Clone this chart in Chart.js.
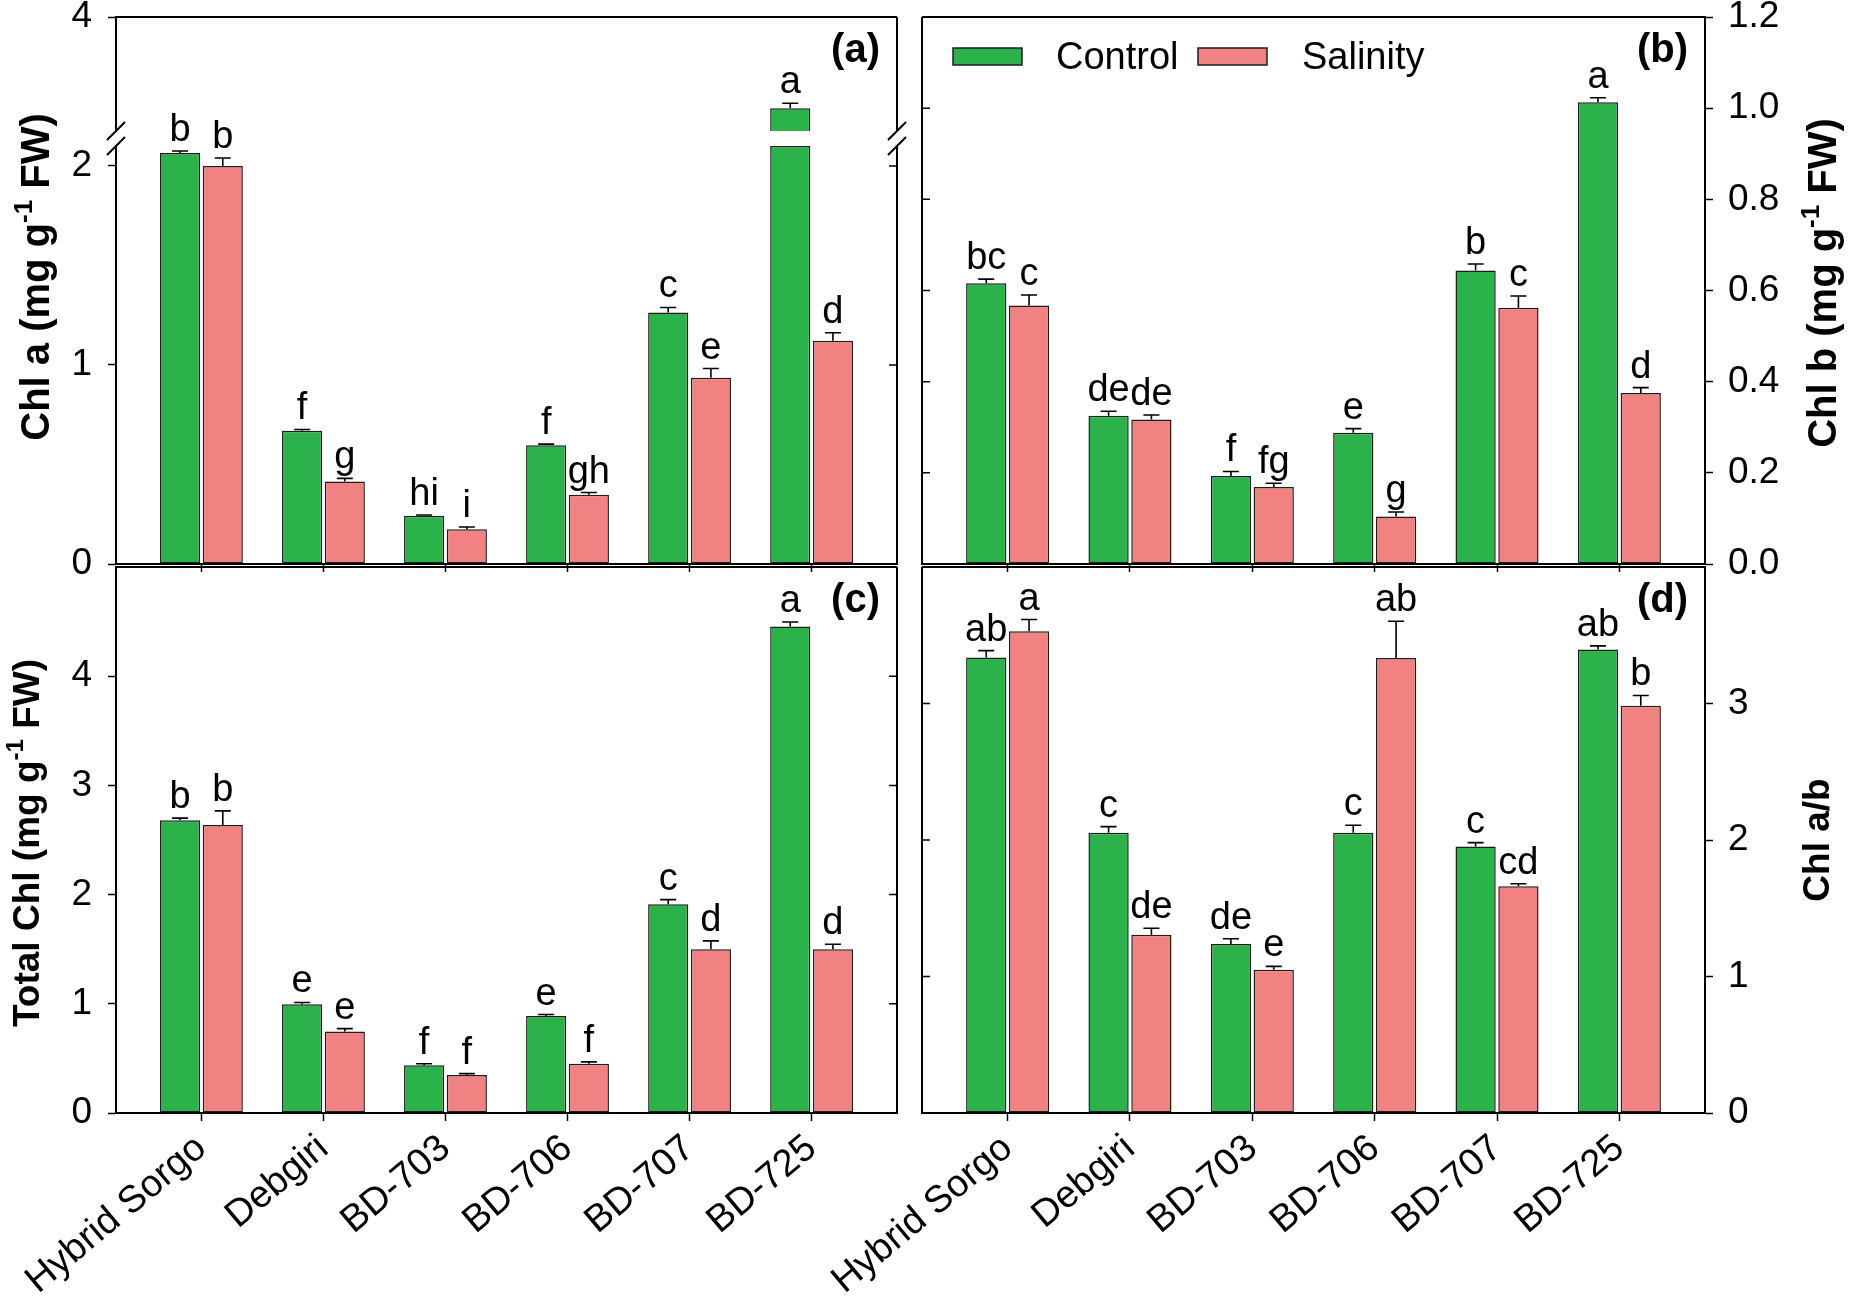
<!DOCTYPE html>
<html><head><meta charset="utf-8">
<script src="https://cdn.jsdelivr.net/npm/chart.js@4.4.1/dist/chart.umd.min.js"></script>
<style>
html,body{margin:0;padding:0;background:#fff;overflow:hidden}
#fig{position:relative;width:1850px;height:1297px;overflow:hidden;background:#fff}
#fig canvas{position:absolute;left:-100px;top:-100px}
</style></head><body>
<div id="fig">
<canvas id="cA1"></canvas><canvas id="cA2"></canvas><canvas id="cB"></canvas><canvas id="cC"></canvas><canvas id="cD"></canvas>
</div>
<script>
// ---------------- DATA ----------------
const categories = ['Hybrid Sorgo', 'Debgiri', 'BD-703', 'BD-706', 'BD-707', 'BD-725'];
const seriesNames = ['Control', 'Salinity'];

const chlaControl      = [2.065, 0.669, 0.242, 0.596, 1.264, 3.44];
const chlaControlErr   = [0.010, 0.007, 0.004, 0.006, 0.025, 0.03];
const chlaSalinity     = [2.000, 0.415, 0.175, 0.348, 0.936, 1.122];
const chlaSalinityErr  = [0.040, 0.015, 0.011, 0.011, 0.046, 0.040];
const chlaControlLetters  = ['b', 'f', 'hi', 'f', 'c', 'a'];
const chlaSalinityLetters = ['b', 'g', 'i', 'gh', 'e', 'd'];

const chlbControl      = [0.616, 0.325, 0.193, 0.288, 0.644, 1.013];
const chlbControlErr   = [0.009, 0.010, 0.010, 0.009, 0.014, 0.010];
const chlbSalinity     = [0.567, 0.317, 0.169, 0.104, 0.562, 0.375];
const chlbSalinityErr  = [0.023, 0.010, 0.008, 0.010, 0.026, 0.012];
const chlbControlLetters  = ['bc', 'de', 'f', 'e', 'b', 'a'];
const chlbSalinityLetters = ['c', 'de', 'fg', 'g', 'c', 'd'];

const totalControl     = [2.680, 0.997, 0.438, 0.889, 1.911, 4.454];
const totalControlErr  = [0.020, 0.015, 0.013, 0.013, 0.043, 0.043];
const totalSalinity    = [2.637, 0.747, 0.348, 0.451, 1.499, 1.499];
const totalSalinityErr = [0.130, 0.026, 0.013, 0.017, 0.077, 0.047];
const totalControlLetters  = ['b', 'e', 'f', 'e', 'c', 'a'];
const totalSalinityLetters = ['b', 'e', 'f', 'f', 'd', 'd'];

const ratioControl     = [3.337, 2.053, 1.239, 2.053, 1.953, 3.395];
const ratioControlErr  = [0.050, 0.045, 0.038, 0.055, 0.028, 0.027];
const ratioSalinity    = [3.529, 1.305, 1.050, 3.333, 1.662, 2.983];
const ratioSalinityErr = [0.086, 0.048, 0.024, 0.270, 0.017, 0.076];
const ratioControlLetters  = ['ab', 'c', 'de', 'c', 'c', 'ab'];
const ratioSalinityLetters = ['a', 'de', 'e', 'ab', 'cd', 'b'];

const chlaLowerTicks = [0, 1, 2];
const chlaUpperTicks = [4];
const chlbTicks  = [0, 0.2, 0.4, 0.6, 0.8, 1.0, 1.2];
const totalTicks = [0, 1, 2, 3, 4];
const ratioTicks = [0, 1, 2, 3];

// ---------------- STYLE / LAYOUT ----------------
const W = 1850, H = 1297, OFF = 100;
const CW = W + 2 * OFF, CH = H + 2 * OFF;
const GREEN = '#2bb24a', PINK = '#f28282', EDGE = '#1e1e1e', INK = '#000';
const FONT = "'Liberation Sans', Arial, Helvetica, sans-serif";
Chart.defaults.font.family = FONT;
Chart.defaults.color = INK;
const YW = 110;
const XH = { none: 0, ticks: 10, labels: 185 };
const TICK_FONT = 37, LETTER_FONT = 38, XLABEL_FONT = 38, LEGEND_FONT = 38, PANEL_FONT = 40;

function drawRichTitle(ctx, title) {
  const size = title.size, sup = Math.round(size * 0.65);
  ctx.save();
  ctx.translate(title.x + OFF, title.cy + OFF);
  ctx.rotate(-Math.PI / 2);
  ctx.textBaseline = 'alphabetic';
  ctx.textAlign = 'left';
  let total = 0;
  title.parts.forEach(p => { ctx.font = `bold ${p.sup ? sup : size}px ${FONT}`; p.w = ctx.measureText(p.t).width; total += p.w; });
  let x = -total / 2;
  title.parts.forEach(p => {
    ctx.font = `bold ${p.sup ? sup : size}px ${FONT}`;
    ctx.fillText(p.t, x, p.sup ? -size * 0.42 : 0);
    x += p.w;
  });
  ctx.restore();
}

function decor(cfg) {
  return {
    id: 'decor',
    afterDatasetsDraw(chart) {
      const ctx = chart.ctx, ca = chart.chartArea, ys = chart.scales.y;
      ctx.save();
      ctx.strokeStyle = INK; ctx.fillStyle = INK;
      // error bars and letters
      for (let d = 0; d < 2; d++) {
        const meta = chart.getDatasetMeta(d);
        meta.data.forEach((bar, i) => {
          const v = cfg.vals[d][i], e = cfg.errs[d][i];
          if (v < ys.min - 1e-9 || v > ys.max + 1e-9) return;
          const y0 = ys.getPixelForValue(v), y1 = ys.getPixelForValue(v + e);
          ctx.lineWidth = 1.6;
          ctx.beginPath();
          ctx.moveTo(bar.x, y0); ctx.lineTo(bar.x, y1);
          ctx.moveTo(bar.x - 8, y1); ctx.lineTo(bar.x + 8, y1);
          ctx.stroke();
          ctx.font = `${LETTER_FONT}px ${FONT}`;
          ctx.textAlign = 'center'; ctx.textBaseline = 'alphabetic';
          ctx.fillText(cfg.letters[d][i], bar.x, y1 - 10);
        });
      }
      // frame
      ctx.lineWidth = 2;
      ctx.beginPath();
      if (cfg.frame.top) { ctx.moveTo(ca.left, ca.top); ctx.lineTo(ca.right, ca.top); }
      if (cfg.frame.right) { ctx.moveTo(ca.right, ca.top); ctx.lineTo(ca.right, ca.bottom); }
      if (cfg.frame.left) { ctx.moveTo(ca.left, ca.top); ctx.lineTo(ca.left, ca.bottom); }
      ctx.stroke();
      // inward ticks on the opposite border
      const bx = cfg.yPos === 'left' ? ca.right : ca.left;
      const dir = cfg.yPos === 'left' ? -1 : 1;
      ctx.lineWidth = 1.5;
      ctx.beginPath();
      ys.ticks.forEach(t => {
        if (t.value <= ys.min || t.value >= ys.max) return;
        const y = ys.getPixelForValue(t.value);
        ctx.moveTo(bx, y); ctx.lineTo(bx + dir * 8, y);
      });
      ctx.stroke();
      // axis break marks
      if (cfg.breakAt) {
        const y = cfg.breakAt === 'top' ? ca.top : ca.bottom;
        ctx.lineWidth = 2;
        ctx.beginPath();
        [ca.left, ca.right].forEach(x => { ctx.moveTo(x - 9, y + 9); ctx.lineTo(x + 9, y - 9); });
        ctx.stroke();
      }
      // panel label
      if (cfg.label) {
        ctx.font = `bold ${PANEL_FONT}px ${FONT}`;
        ctx.textAlign = 'right'; ctx.textBaseline = 'alphabetic';
        ctx.fillText(cfg.label, ca.right - 17, ca.top + 45);
      }
      // legend
      if (cfg.legend) {
        ctx.font = `${LEGEND_FONT}px ${FONT}`;
        ctx.textAlign = 'left'; ctx.textBaseline = 'alphabetic';
        const items = [{ c: GREEN, dx: 31, tx: 134 }, { c: PINK, dx: 276, tx: 380 }];
        items.forEach((it, k) => {
          ctx.fillStyle = it.c;
          ctx.fillRect(ca.left + it.dx, ca.top + 31, 69, 17);
          ctx.lineWidth = 1.5; ctx.strokeStyle = EDGE;
          ctx.strokeRect(ca.left + it.dx, ca.top + 31, 69, 17);
          ctx.fillStyle = INK;
          ctx.fillText(seriesNames[k], ca.left + it.tx, ca.top + 52);
        });
      }
      // axis title
      if (cfg.title) {
        ctx.fillStyle = INK;
        drawRichTitle(ctx, cfg.title);
      }
      ctx.restore();
    }
  };
}

function panelChart(id, cfg) {
  const cv = document.getElementById(id);
  cv.width = CW; cv.height = CH;
  cv.style.width = CW + 'px'; cv.style.height = CH + 'px';
  const a = cfg.area;
  const L = a.l + OFF, R = a.r + OFF, T = a.t + OFF, B = a.b + OFF;
  const xh = XH[cfg.xMode];
  const pad = {
    top: T, bottom: CH - B - xh,
    left: cfg.yPos === 'left' ? L - YW : L,
    right: cfg.yPos === 'right' ? CW - R - YW : CW - R
  };
  const colors = [GREEN, PINK];
  const datasets = cfg.data.map((arr, d) => ({
    label: seriesNames[d],
    data: arr.map((v, i) => ({ x: i, y: v })),
    backgroundColor: colors[d],
    borderColor: EDGE,
    borderWidth: 1.5,
    borderSkipped: false,
    categoryPercentage: 0.7,
    barPercentage: 0.94,
    clip: 0
  }));
  return new Chart(cv, {
    type: 'bar',
    data: { datasets },
    plugins: [decor(cfg)],
    options: {
      responsive: false, animation: false, devicePixelRatio: 1, events: [],
      layout: { autoPadding: false, padding: pad },
      plugins: { legend: { display: false }, tooltip: { enabled: false } },
      scales: {
        x: {
          type: 'linear', min: -0.7, max: 5.7, offset: false,
          display: cfg.xMode !== 'none',
          afterBuildTicks: s => { s.ticks = categories.map((c, i) => ({ value: i })); },
          afterFit: s => { s.height = xh; },
          ticks: {
            display: cfg.xMode === 'labels', autoSkip: false,
            callback: v => categories[v],
            font: { size: XLABEL_FONT }, color: INK,
            minRotation: 40, maxRotation: 40, padding: 5
          },
          grid: { drawOnChartArea: false, drawTicks: true, tickLength: 8, tickWidth: 1.5, tickColor: INK, offset: false },
          border: { display: true, color: INK, width: 2 }
        },
        y: {
          type: 'linear', position: cfg.yPos, min: cfg.yMin, max: cfg.yMax,
          afterBuildTicks: s => { s.ticks = cfg.yTicks.map(v => ({ value: v })); },
          afterFit: s => { s.width = YW; },
          ticks: {
            autoSkip: false, font: { size: TICK_FONT, lineHeight: 1 }, color: INK,
            padding: cfg.yPos === 'left' ? 16 : 15,
            callback: v => cfg.yFmt(v)
          },
          grid: { drawOnChartArea: false, drawTicks: true, tickLength: 8, tickWidth: 1.5, tickColor: INK },
          border: { display: true, color: INK, width: 2 }
        }
      }
    }
  });
}

const intFmt = v => String(v);
const upperMin = 3.3, lowerMax = 2.1;

// (a) upper segment
panelChart('cA1', {
  area: { l: 116, r: 897, t: 17, b: 131 }, yPos: 'left', yMin: upperMin, yMax: 4, yTicks: chlaUpperTicks, yFmt: intFmt,
  xMode: 'none',
  data: [chlaControl.map(v => v >= upperMin ? v : null), chlaSalinity.map(v => v >= upperMin ? v : null)],
  vals: [chlaControl, chlaSalinity], errs: [chlaControlErr, chlaSalinityErr],
  letters: [chlaControlLetters, chlaSalinityLetters],
  frame: { top: true, right: true }, breakAt: 'bottom', label: '(a)'
});
// (a) lower segment
panelChart('cA2', {
  area: { l: 116, r: 897, t: 146, b: 564 }, yPos: 'left', yMin: 0, yMax: lowerMax, yTicks: chlaLowerTicks, yFmt: intFmt,
  xMode: 'ticks',
  data: [chlaControl.map(v => Math.min(v, lowerMax)), chlaSalinity.map(v => Math.min(v, lowerMax))],
  vals: [chlaControl, chlaSalinity], errs: [chlaControlErr, chlaSalinityErr],
  letters: [chlaControlLetters, chlaSalinityLetters],
  frame: { right: true }, breakAt: 'top',
  title: { parts: [{ t: 'Chl a (mg g' }, { t: '-1', sup: true }, { t: ' FW)' }], x: 49, cy: 277, size: 40 }
});
// (b)
panelChart('cB', {
  area: { l: 922, r: 1705, t: 17, b: 564 }, yPos: 'right', yMin: 0, yMax: 1.2, yTicks: chlbTicks, yFmt: v => v.toFixed(1),
  xMode: 'ticks',
  data: [chlbControl, chlbSalinity],
  vals: [chlbControl, chlbSalinity], errs: [chlbControlErr, chlbSalinityErr],
  letters: [chlbControlLetters, chlbSalinityLetters],
  frame: { top: true, left: true }, label: '(b)', legend: true,
  title: { parts: [{ t: 'Chl b (mg g' }, { t: '-1', sup: true }, { t: ' FW)' }], x: 1836, cy: 283, size: 40 }
});
// (c)
panelChart('cC', {
  area: { l: 116, r: 897, t: 567, b: 1113 }, yPos: 'left', yMin: 0, yMax: 5, yTicks: totalTicks, yFmt: intFmt,
  xMode: 'labels',
  data: [totalControl, totalSalinity],
  vals: [totalControl, totalSalinity], errs: [totalControlErr, totalSalinityErr],
  letters: [totalControlLetters, totalSalinityLetters],
  frame: { top: true, right: true }, label: '(c)',
  title: { parts: [{ t: 'Total Chl (mg g' }, { t: '-1', sup: true }, { t: ' FW)' }], x: 39, cy: 843, size: 37 }
});
// (d)
panelChart('cD', {
  area: { l: 922, r: 1705, t: 567, b: 1113 }, yPos: 'right', yMin: 0, yMax: 4, yTicks: ratioTicks, yFmt: intFmt,
  xMode: 'labels',
  data: [ratioControl, ratioSalinity],
  vals: [ratioControl, ratioSalinity], errs: [ratioControlErr, ratioSalinityErr],
  letters: [ratioControlLetters, ratioSalinityLetters],
  frame: { top: true, left: true }, label: '(d)',
  title: { parts: [{ t: 'Chl a/b' }], x: 1829, cy: 840, size: 37 }
});
</script>
</body></html>
